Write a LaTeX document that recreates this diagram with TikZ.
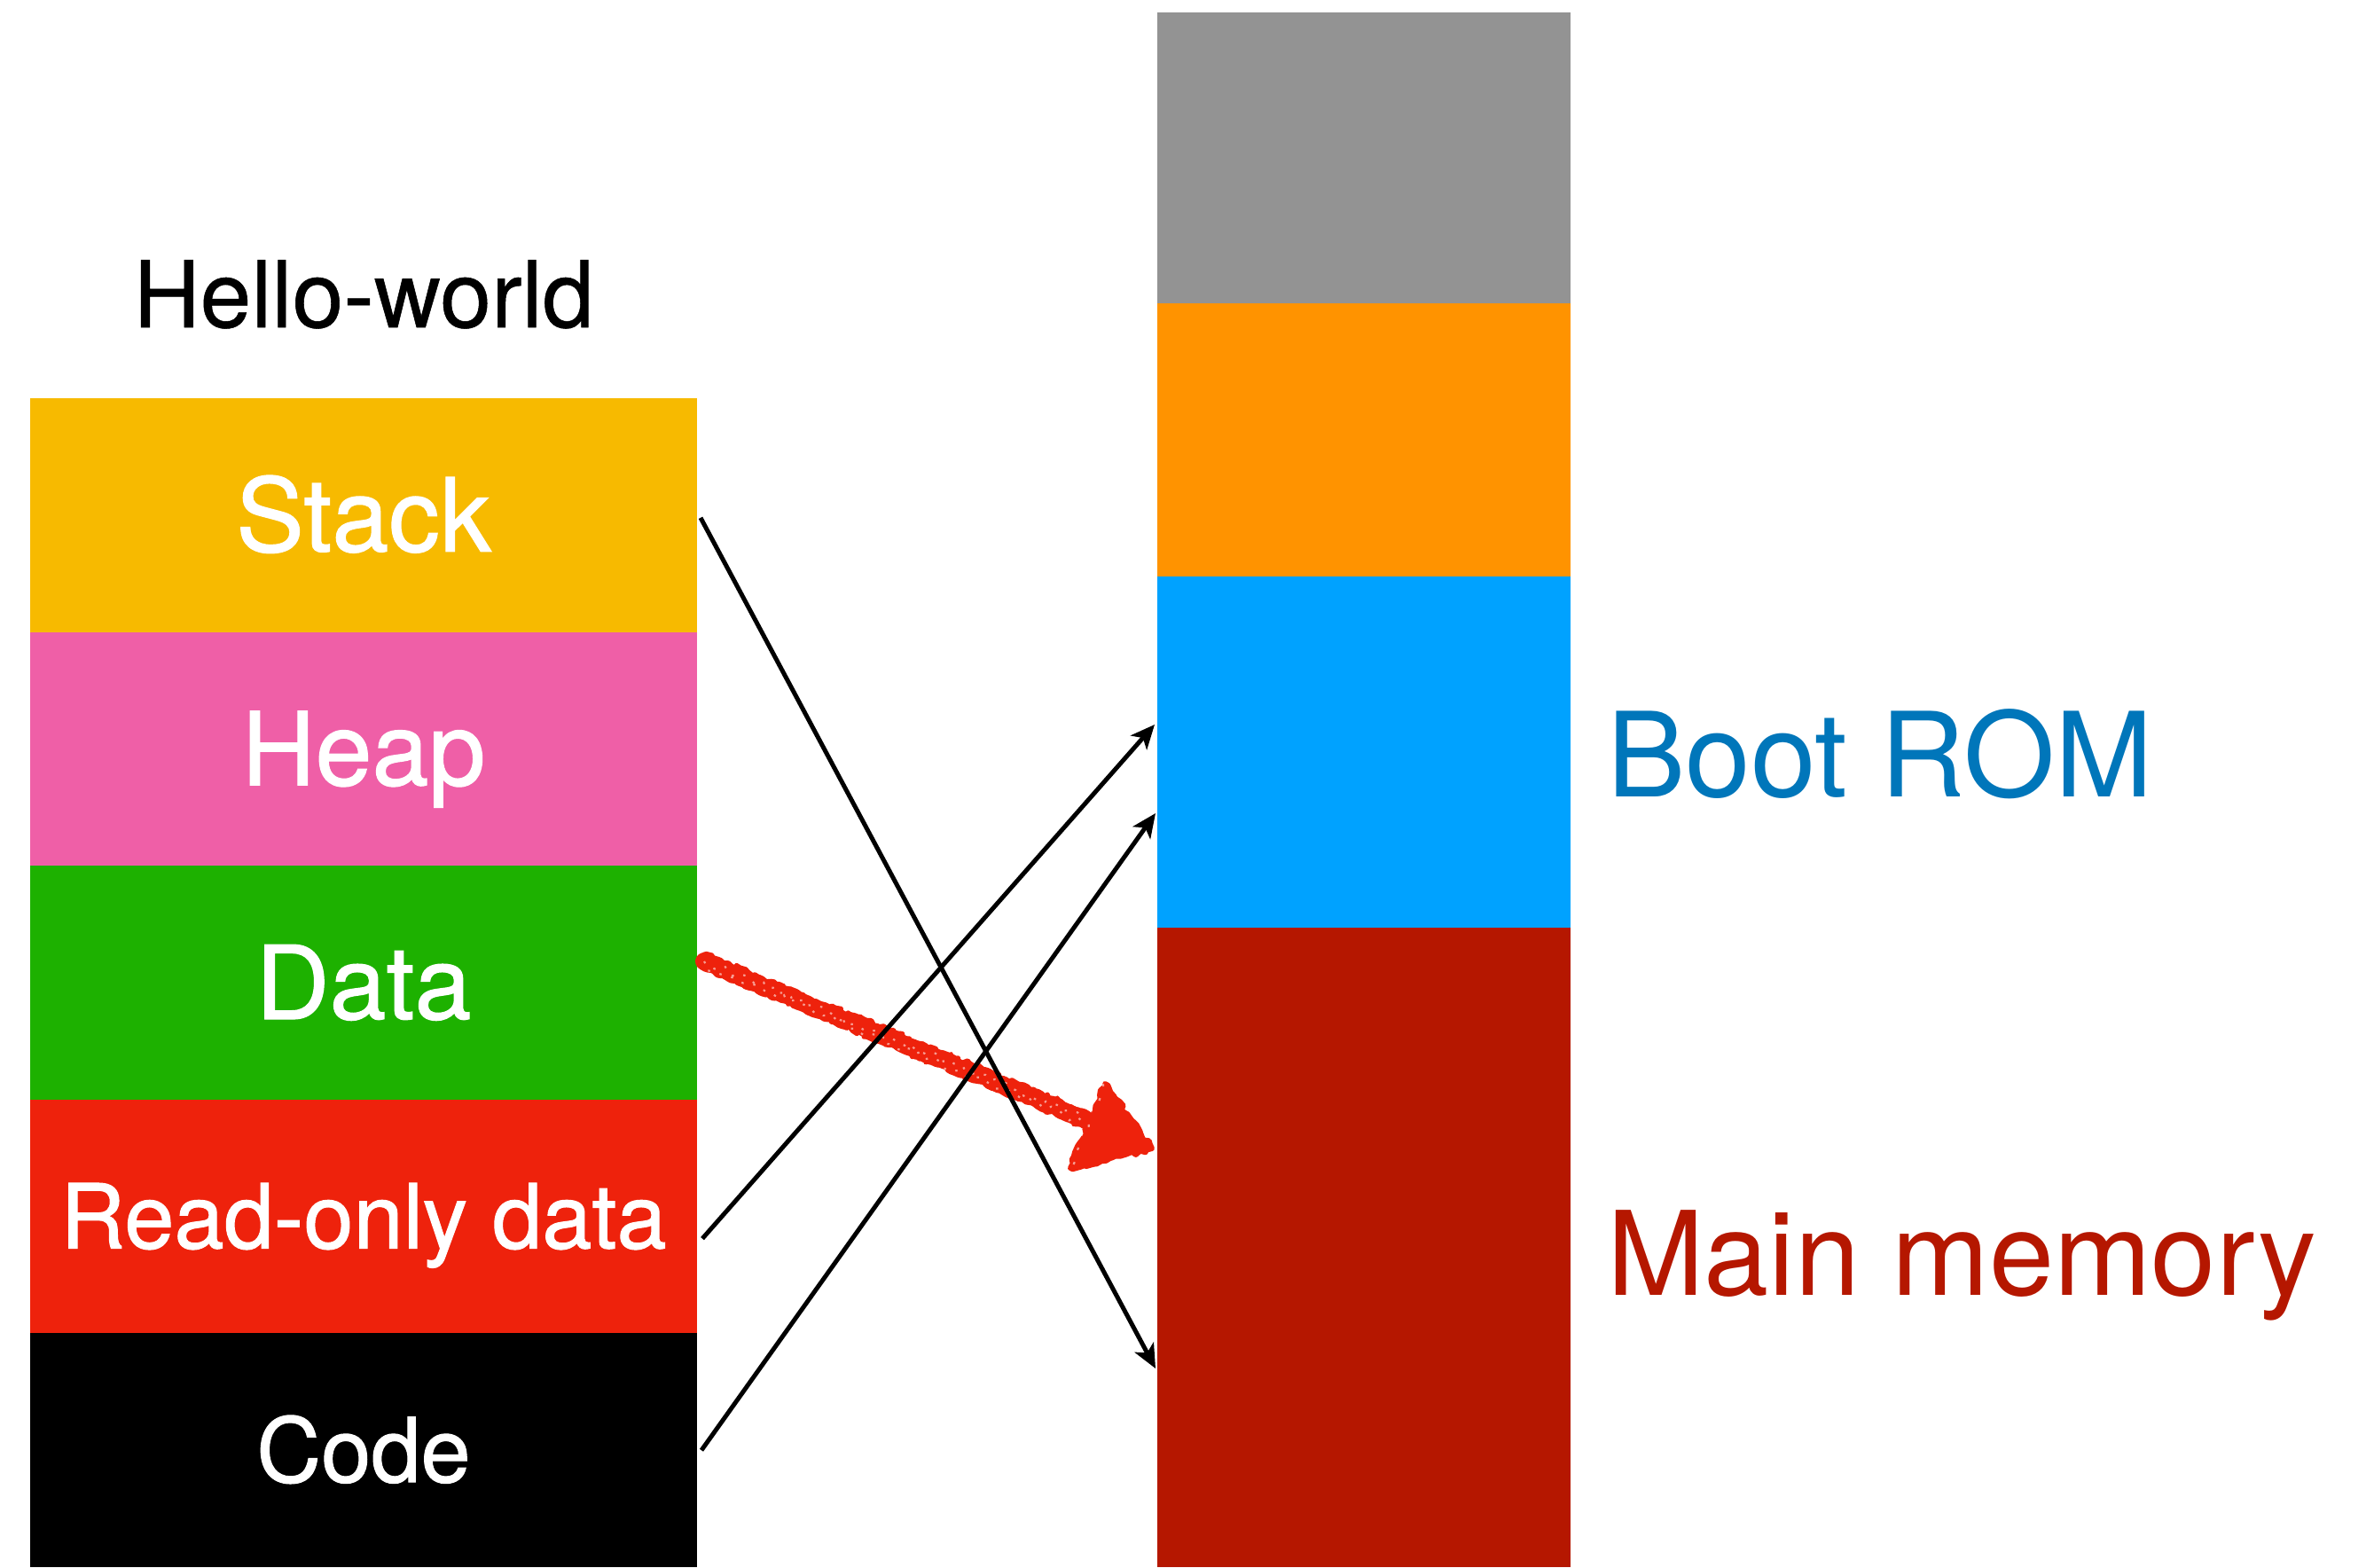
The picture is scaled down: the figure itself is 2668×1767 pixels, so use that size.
\documentclass[tikz,border=0pt]{standalone}
\usepackage{fontspec}
\setmainfont{TeX Gyre Heros}
\newfontfamily\segfont[FakeBold=1]{TeX Gyre Heros}
\newfontfamily\titlefont[FakeBold=0.5]{TeX Gyre Heros}
\usetikzlibrary{arrows.meta,decorations.pathmorphing,positioning}

\definecolor{stackcol}{HTML}{F7BA00}
\definecolor{heapcol}{HTML}{EF5FA7}
\definecolor{datacol}{HTML}{1DB100}
\definecolor{rocol}{HTML}{EE220C}
\definecolor{codecol}{HTML}{000000}
\definecolor{spare}{HTML}{939393}
\definecolor{reserved}{HTML}{FF9300}
\definecolor{romfill}{HTML}{00A2FF}
\definecolor{ramfill}{HTML}{B51700}
\definecolor{romtext}{HTML}{0076BA}

\begin{document}
\begin{tikzpicture}[x=1pt,y=-1pt,
  seg/.style={draw=none, inner sep=0pt, outer sep=0pt, minimum width=752pt,
    minimum height=263.6pt, text=white, anchor=north west},
  bigtxt/.style={font=\segfont\fontsize{115}{120}\selectfont, text height=82pt, text depth=0pt},
  smalltxt/.style={font=\segfont\fontsize{101}{110}\selectfont, text height=72pt, text depth=0pt},
  mem/.style={draw=none, inner sep=0pt, outer sep=0pt, minimum width=466pt, anchor=north west},
  link/.style={line width=5pt, draw=black, -{Stealth[length=27pt,width=24pt,inset=7pt]}},
  crayon/.style={draw=rocol, line width=20pt, line cap=round, line join=round,
    decorate, decoration={random steps, segment length=5pt, amplitude=1.6pt}},
  crayonedge/.style={draw=rocol, line width=5pt, line cap=round, line join=round,
    decorate, decoration={random steps, segment length=4pt, amplitude=3pt}},
  speckle/.style={draw=white, line width=2.2pt, opacity=0.55,
    dash pattern=on 2.5pt off 11pt,
    decorate, decoration={random steps, segment length=7pt, amplitude=4pt}},
]
\useasboundingbox (0,0) rectangle (2668,1767);
\fill[white] (0,0) rectangle (2668,1767);

% program layout
\node[anchor=base, font=\titlefont\fontsize{104}{110}\selectfont] (title) at (410,369) {Hello-world};
\node[seg,bigtxt,fill=stackcol] (stack) at (34,449) {Stack};
\node[seg,bigtxt,fill=heapcol,below=0pt of stack] (heap) {Heap};
\node[seg,bigtxt,fill=datacol,below=0pt of heap] (data) {Data};
\node[seg,smalltxt,fill=rocol,below=0pt of data] (rodata) {Read-only data};
\node[seg,smalltxt,fill=codecol,below=0pt of rodata] (code) {Code};

% physical memory
\node[mem,fill=spare,minimum height=328pt] (top) at (1305,14) {};
\node[mem,fill=reserved,minimum height=308pt,below=0pt of top] (mid) {};
\node[mem,fill=romfill,minimum height=396pt,below=0pt of mid] (rom) {};
\node[mem,fill=ramfill,minimum height=721pt,below=0pt of rom] (ram) {};

\node[anchor=base west, inner sep=0pt, text=romtext, font=\fontsize{132.5}{140}\selectfont]
  (romlbl) at (1812,898) {Boot ROM};
\node[anchor=base west, inner sep=0pt, text=ramfill, font=\fontsize{131.5}{140}\selectfont]
  (ramlbl) at (1812,1460) {Main memory};

% connector end points
\coordinate (s1) at ([shift={(4,3)}]stack.east);
\coordinate (s2) at ([shift={(6,25)}]rodata.east);
\coordinate (s3) at ([shift={(5,0)}]code.east);
\coordinate (s4) at ([shift={(8,-24)}]data.east);
\coordinate (e1) at ([shift={(-2,497)}]ram.north west);
\coordinate (e2) at ([shift={(-3,167)}]rom.north west);
\coordinate (e3) at ([shift={(-2,267)}]rom.north west);
\coordinate (tip) at ([shift={(-6,249)}]ram.north west);
\coordinate (hb) at ([shift={(-75,-33)}]tip);
\coordinate (hu) at ([shift={(-53,-73)}]tip);
\coordinate (hl) at ([shift={(-92,22)}]tip);

% hand-drawn arrow
\draw[crayon] (s4) -- (hb);
\draw[crayonedge] ([shift={(0,-8)}]s4) -- ([shift={(0,-8)}]hb);
\draw[crayonedge] ([shift={(2,8)}]s4) -- ([shift={(0,8)}]hb);
\fill[rocol, draw=rocol, line width=6pt, line join=round, decorate,
  decoration={random steps, segment length=5pt, amplitude=2.5pt}]
  (hu) -- (tip) -- (hl) -- cycle;
\draw[speckle] (s4) -- (hb);
\draw[speckle, dash phase=6pt] ([shift={(0,5)}]s4) -- ([shift={(0,5)}]hb);
\draw[speckle, dash pattern=on 3pt off 14pt] ([shift={(-2,0)}]hu) -- ([shift={(2,0)}]hl);

% mapping arrows
\draw[link] (s1) -- (e1);
\draw[link] (s2) -- (e2);
\draw[link] (s3) -- (e3);
\end{tikzpicture}
\end{document}
